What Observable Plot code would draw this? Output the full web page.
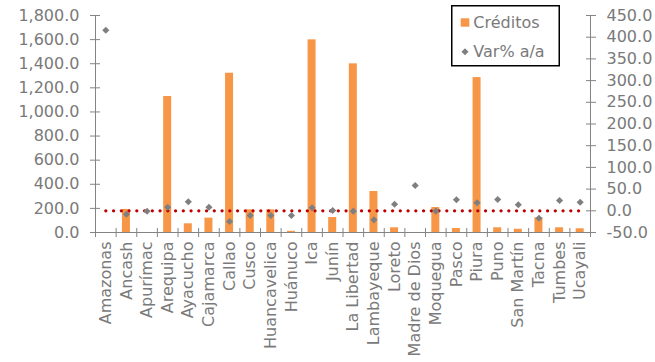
<!DOCTYPE html>
<html>
<head>
<meta charset="utf-8">
<script src="https://cdn.jsdelivr.net/npm/d3@7"></script>
<script src="https://cdn.jsdelivr.net/npm/@observablehq/plot@0.6"></script>
<style>
  body { margin: 0; background: #fff; }
  #chart { position: relative; width: 655px; height: 362px; }
</style>
</head>
<body>
<div id="chart"></div>
<script>
// Regions of Peru
const regions = [
  "Amazonas", "Ancash", "Apurímac", "Arequipa", "Ayacucho", "Cajamarca",
  "Callao", "Cusco", "Huancavelica", "Huánuco", "Ica", "Junín",
  "La Libertad", "Lambayeque", "Loreto", "Madre de Dios", "Moquegua", "Pasco",
  "Piura", "Puno", "San Martín", "Tacna", "Tumbes", "Ucayali"
];
// Credit stock (left axis)
const creditos = [
  0, 191, 0, 1128, 72, 119,
  1321, 188, 188, 10, 1598, 124,
  1399, 340, 39, 0, 207, 33,
  1285, 39, 27, 122, 39, 31
];
// Year-on-year change, % (right axis)
const varPct = [
  416, -8, -1, 8.3, 20.7, 8.3,
  -24.7, -10.8, -10.8, -10.8, 6.9, 0.7,
  -0.8, -20.8, 15.2, 58.3, -0.8, 25.3,
  18.4, 26, 13.8, -17, 23.7, 19.8
];
// Axis ticks
const leftTicks = [0, 200, 400, 600, 800, 1000, 1200, 1400, 1600, 1800];
const rightTicks = [-50, 0, 50, 100, 150, 200, 250, 300, 350, 400, 450];
const zeroLine = regions.map(() => 0);

const data = regions.map((region, i) => ({
  region, creditos: creditos[i], variacion: varPct[i], cero: zeroLine[i]
}));

// The right axis (-50 … 450) is drawn on the left scale (0 … 1800)
const [rMin, rMax] = [rightTicks[0], rightTicks[rightTicks.length - 1]];
const [lMin, lMax] = [leftTicks[0], leftTicks[leftTicks.length - 1]];
const toLeft = (v) => lMin + (v - rMin) * (lMax - lMin) / (rMax - rMin);
const fromLeft = (d) => rMin + (d - lMin) * (rMax - rMin) / (lMax - lMin);

const W = 655, H = 362;
const mLeft = 95, mRight = 65, mTop = 15, mBottom = 130;
const step = (W - mLeft - mRight) / regions.length;
const barWidth = 8;
const axisColor = "#848484";
const textColor = "#7a7a7a";

const chart = Plot.plot({
  width: W,
  height: H,
  marginLeft: mLeft,
  marginRight: mRight,
  marginTop: mTop,
  marginBottom: mBottom,
  style: { fontFamily: "DejaVu Sans", fontSize: "16px", color: textColor, background: "#fff" },
  x: { type: "band", domain: regions, padding: 0, round: false, label: null },
  y: { domain: [lMin, lMax], label: null },
  marks: [
    Plot.barY(data, {
      x: "region", y: "creditos", fill: "#f79646",
      insetLeft: (step - barWidth) / 2, insetRight: (step - barWidth) / 2
    }),
    // axis lines
    Plot.frame({ anchor: "left", stroke: axisColor }),
    Plot.frame({ anchor: "right", stroke: axisColor }),
    Plot.frame({ anchor: "bottom", stroke: axisColor }),
    // category boundary ticks on the bottom axis
    Plot.ruleX(data, {
      x: "region", y1: lMin, y2: lMin, dx: -step / 2,
      insetTop: -4, insetBottom: -5, stroke: axisColor
    }),
    Plot.ruleX(data.slice(-1), {
      x: "region", y1: lMin, y2: lMin, dx: step / 2,
      insetTop: -4, insetBottom: -5, stroke: axisColor
    }),
    Plot.axisY({
      anchor: "left", ticks: leftTicks, tickFormat: d3.format(",.1f"),
      tickSize: 10, dx: 5, tickPadding: 11, stroke: axisColor, fill: textColor, label: null
    }),
    Plot.axisY({
      anchor: "right", ticks: rightTicks.map(toLeft),
      tickFormat: (d) => fromLeft(d).toFixed(1),
      tickSize: 10, dx: -5, tickPadding: 11, stroke: axisColor, fill: textColor, label: null
    }),
    Plot.axisX({
      tickRotate: -90, tickSize: 0, tickPadding: 9, fill: textColor, label: null
    }),
    // zero reference for the % change
    Plot.lineY(data, {
      x: "region", y: (d) => toLeft(d.cero),
      stroke: "#c00000", strokeWidth: 3.3, strokeDasharray: "0 7.75", strokeLinecap: "round"
    }),
    Plot.dot(data, {
      x: "region", y: (d) => toLeft(d.variacion),
      symbol: "diamond2", r: 3.2, fill: "#7f7f7f", stroke: "none"
    })
  ]
});

const root = document.getElementById("chart");
root.appendChild(chart);

// Legend box
const legend = d3.select(root).append("svg")
  .attr("width", 110).attr("height", 63)
  .style("position", "absolute").style("left", "451px").style("top", "5px")
  .style("font-family", "DejaVu Sans").style("font-size", "16px");
legend.append("rect")
  .attr("x", 0.75).attr("y", 0.75).attr("width", 107.5).attr("height", 60)
  .attr("fill", "#fff").attr("stroke", "#000").attr("stroke-width", 1.5);
legend.append("rect")
  .attr("x", 9.7).attr("y", 13.3).attr("width", 8.6).attr("height", 8.4)
  .attr("fill", "#f79646");
legend.append("text")
  .attr("x", 22.3).attr("y", 23.3).attr("fill", textColor).text("Créditos");
legend.append("path")
  .attr("transform", "translate(14,46.7)")
  .attr("d", d3.symbol(d3.symbolDiamond2, Math.PI * 3.2 * 3.2)())
  .attr("fill", "#7f7f7f");
legend.append("text")
  .attr("x", 22.3).attr("y", 51.7).attr("fill", textColor).text("Var% a/a");
</script>
</body>
</html>
